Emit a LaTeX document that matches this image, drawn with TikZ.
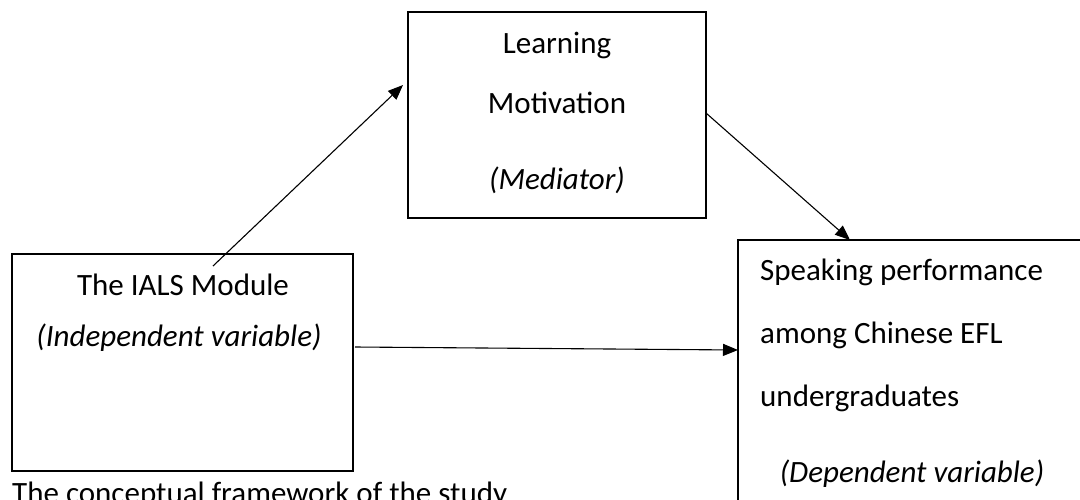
\documentclass[tikz,border=0pt]{standalone}
\usepackage{fontspec}
\setmainfont{Carlito}
\usetikzlibrary{arrows.meta}
\begin{document}
\begin{tikzpicture}[x=1pt,y=-1pt,
  box/.style={draw=black,line width=1.6pt},
  txt/.style={anchor=base,inner sep=0pt,font=\fontsize{31}{37}\selectfont},
  conn/.style={draw=black,line width=1.1pt,-{Triangle[length=15pt,width=12pt]}}]
\useasboundingbox (0,0) rectangle (1080,499);
\clip (0,0) rectangle (1080,499);
\fill[white] (0,0) rectangle (1080,499);
% boxes
\draw[box] (408,12) rectangle (706,218);
\draw[box] (12,254) rectangle (353,471);
\draw[box] (738,240) rectangle (1090,520);
% mediator texts
\node[txt] (t1) at (557,53) {Learning};
\node[txt] (t2) at (557,113) {Motivation};
\node[txt] (t3) at (557,189) {\itshape (Mediator)};
% independent
\node[txt] (t4) at (183,295) {The IALS Module};
\node[txt] (t5) at (179,346) {\itshape (Independent variable)};
% dependent
\node[txt,anchor=base west] (t6) at (760,280) {Speaking performance};
\node[txt,anchor=base west] (t7) at (760,343) {among Chinese EFL};
\node[txt,anchor=base west] (t8) at (760,406) {undergraduates};
\node[txt] (t9) at (912,482) {\itshape (Dependent variable)};
% caption (cut off at the lower edge, as in the source)
\node[txt,anchor=base west] (cap) at (12,503) {The conceptual framework of the study};
% connectors
\coordinate (a1s) at (213,266);
\coordinate (a1e) at (403,85);
\coordinate (a2s) at (706,113);
\coordinate (a2e) at (850,240);
\coordinate (a3s) at (355,347);
\coordinate (a3e) at (738,350);
\draw[conn] (a1s) -- (a1e);
\draw[conn] (a2s) -- (a2e);
\draw[conn] (a3s) -- (a3e);
\end{tikzpicture}
\end{document}
